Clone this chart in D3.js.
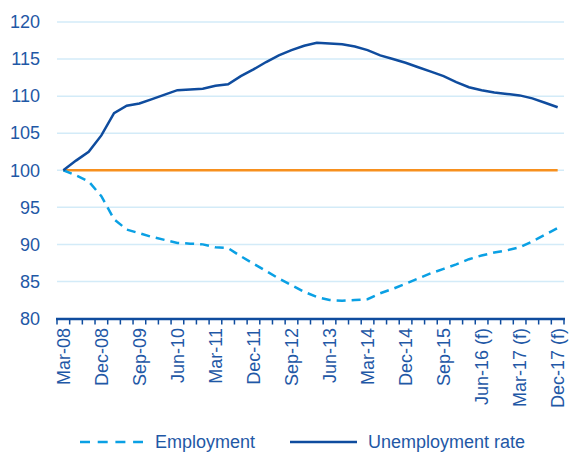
<!DOCTYPE html>
<html><head><meta charset="utf-8">
<script src="https://cdn.jsdelivr.net/npm/d3@7"></script>
<style>body{margin:0;background:#fff}svg{display:block}text{font-family:"Liberation Sans",Arial,sans-serif}</style>
</head><body>
<svg id="chart" width="576" height="454"></svg>
<script>
const categories = ["Mar-08","Jun-08","Sep-08","Dec-08","Mar-09","Jun-09","Sep-09","Dec-09","Mar-10","Jun-10",
"Sep-10","Dec-10","Mar-11","Jun-11","Sep-11","Dec-11","Mar-12","Jun-12","Sep-12","Dec-12",
"Mar-13","Jun-13","Sep-13","Dec-13","Mar-14","Jun-14","Sep-14","Dec-14","Mar-15","Jun-15",
"Sep-15","Dec-15","Mar-16 (f)","Jun-16 (f)","Sep-16 (f)","Dec-16 (f)","Mar-17 (f)","Jun-17 (f)","Sep-17 (f)","Dec-17 (f)"];
const employment = [100,99.3,98.5,96.5,93.4,92.0,91.5,91.0,90.6,90.2,
90.1,90.0,89.6,89.5,88.4,87.4,86.4,85.4,84.5,83.6,
82.9,82.5,82.4,82.5,82.6,83.4,84.0,84.7,85.4,86.1,
86.7,87.3,88.0,88.5,88.9,89.2,89.6,90.4,91.3,92.2];
const unemploymentRate = [100,101.3,102.5,104.7,107.7,108.7,109.0,109.6,110.2,110.8,
110.9,111.0,111.4,111.6,112.7,113.6,114.6,115.5,116.2,116.8,
117.2,117.1,117.0,116.7,116.2,115.5,115.0,114.5,113.9,113.3,
112.7,111.9,111.2,110.8,110.5,110.3,110.1,109.7,109.1,108.5];
const baseline = categories.map(() => 100);
const yTicks = [80,85,90,95,100,105,110,115,120];
const legendLabels = ["Employment","Unemployment rate"];

const textColor = "#1f58a6", darkBlue = "#0f4c9e", lightBlue = "#0aa0e4", orange = "#f7901e", gridColor = "#d3ebf8";
const svg = d3.select("#chart");
const x = d3.scaleBand().domain(categories).range([57, 564]).padding(0);
const y = d3.scaleLinear().domain([80,120]).range([318.5, 22]);
const cx = d => x(d) + x.bandwidth()/2;

// gridlines
svg.append("g").selectAll("line").data(yTicks.filter(t => t > 80)).join("line")
  .attr("x1", 57).attr("x2", 564).attr("y1", d => y(d)).attr("y2", d => y(d))
  .attr("stroke", gridColor).attr("stroke-width", 1.5);

// y labels
svg.append("g").selectAll("text").data(yTicks).join("text")
  .attr("x", 40).attr("y", d => y(d)).attr("dy", "0.35em").attr("text-anchor", "end")
  .attr("font-size", 18).attr("fill", textColor).text(d => d);

// x axis
const xAxis = d3.axisBottom(x).tickValues(categories.filter((c,i) => i % 3 === 0)).tickSize(0).tickPadding(0);
const gx = svg.append("g").attr("transform", "translate(0,319)").call(xAxis);
gx.select(".domain").remove();
gx.selectAll("text").attr("font-size", 18).attr("fill", textColor)
  .attr("transform", "rotate(-90)").attr("text-anchor", "end").attr("x", -9).attr("y", 0).attr("dy", "0.35em");
const bounds = categories.map(c => x(c)).concat([x.range()[1]]);
svg.append("g").selectAll("line").data(bounds).join("line")
  .attr("x1", d => d).attr("x2", d => d).attr("y1", 319).attr("y2", 324.5)
  .attr("stroke", darkBlue).attr("stroke-width", 1.5);
svg.append("line").attr("x1", 56).attr("x2", 565).attr("y1", 319).attr("y2", 319)
  .attr("stroke", darkBlue).attr("stroke-width", 2.5);

const line = d3.line().x((d,i) => cx(categories[i])).y(d => y(d));
svg.append("path").datum(baseline).attr("d", line).attr("fill","none").attr("stroke", orange).attr("stroke-width", 2.5);
svg.append("path").datum(employment).attr("d", line).attr("fill","none").attr("stroke", lightBlue).attr("stroke-width", 2.5).attr("stroke-dasharray","9,6");
svg.append("path").datum(unemploymentRate).attr("d", line).attr("fill","none").attr("stroke", darkBlue).attr("stroke-width", 2.5);

// legend
const lg = svg.append("g");
lg.append("line").attr("x1",80).attr("x2",143).attr("y1",442).attr("y2",442).attr("stroke",lightBlue).attr("stroke-width",2.5).attr("stroke-dasharray","10,7.7");
lg.append("text").attr("x",155).attr("y",442).attr("dy","0.35em").attr("font-size",18).attr("fill",textColor).text(legendLabels[0]);
lg.append("line").attr("x1",290).attr("x2",357).attr("y1",442).attr("y2",442).attr("stroke",darkBlue).attr("stroke-width",2.5);
lg.append("text").attr("x",368).attr("y",442).attr("dy","0.35em").attr("font-size",18).attr("fill",textColor).text(legendLabels[1]);
</script>
</body></html>
